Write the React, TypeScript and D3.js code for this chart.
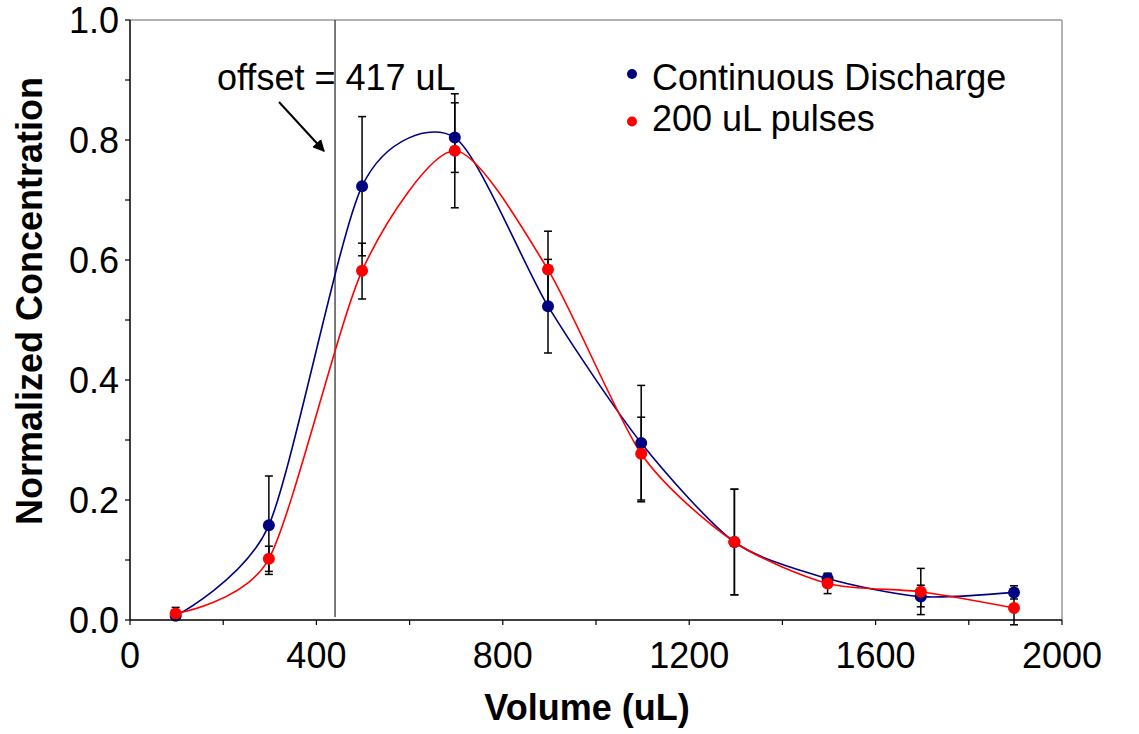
import React from "react";
import * as d3 from "d3";

const volumes = [98, 298, 498, 697, 897, 1097, 1297, 1497, 1697, 1897];
const continuous = [0.007, 0.158, 0.723, 0.804, 0.523, 0.295, 0.13, 0.069, 0.039, 0.046];
const continuousErrUp = [0.005, 0.082, 0.116, 0.058, 0.078, 0.096, 0.088, 0.008, 0.047, 0.011];
const continuousErrDown = [0.005, 0.082, 0.116, 0.058, 0.078, 0.098, 0.088, 0.008, 0.03, 0.011];
const pulses = [0.011, 0.102, 0.582, 0.782, 0.584, 0.277, 0.13, 0.061, 0.047, 0.02];
const pulsesErrUp = [0.01, 0.021, 0.046, 0.095, 0.064, 0.061, 0.088, 0.017, 0.011, 0.028];
const pulsesErrDown = [0.01, 0.021, 0.047, 0.095, 0.064, 0.077, 0.088, 0.017, 0.025, 0.028];

const xMajorTicks = [0, 400, 800, 1200, 1600, 2000];
const xMinorTicks = [200, 600, 1000, 1400, 1800];
const yMajorTicks = [0, 0.2, 0.4, 0.6, 0.8, 1.0];
const yMinorTicks = [0.1, 0.3, 0.5, 0.7, 0.9];
const offsetLineValue = 440;
const offsetLabel = "offset = 417 uL";
const seriesNames = ["Continuous Discharge", "200 uL pulses"];
const seriesColors = ["#000080", "#ff0000"];

const W = 1139;
const H = 734;
const FONT = "'Liberation Sans', Arial, Helvetica, sans-serif";

export default function App() {
  const x = d3.scaleLinear().domain([0, 2000]).range([130, 1062]);
  const y = d3.scaleLinear().domain([0, 1]).range([620, 20]);
  const line = d3
    .line<[number, number]>()
    .x((d) => x(d[0]))
    .y((d) => y(d[1]))
    .curve(d3.curveCardinal.tension(0.25));

  const series = [
    { name: seriesNames[0], color: seriesColors[0], vals: continuous, up: continuousErrUp, down: continuousErrDown },
    { name: seriesNames[1], color: seriesColors[1], vals: pulses, up: pulsesErrUp, down: pulsesErrDown },
  ];

  const fmtY = d3.format(".1f");

  return (
    <svg width={W} height={H} style={{ position: "absolute", left: 0, top: 0, background: "#fff" }} fontFamily={FONT}>
      <defs>
        <marker id="arrow" viewBox="0 0 10 10" refX="9" refY="5" markerWidth="12" markerHeight="12" markerUnits="userSpaceOnUse" orient="auto">
          <path d="M0,0 L10,5 L0,10 z" fill="#000" />
        </marker>
      </defs>
      <rect x={0} y={0} width={W} height={H} fill="#fff" />
      {/* frame */}
      <line x1={x(0)} x2={x(2000)} y1={y(1)} y2={y(1)} stroke="#999" strokeWidth={1.5} />
      <line x1={x(2000)} x2={x(2000)} y1={y(1)} y2={y(0)} stroke="#999" strokeWidth={1.5} />

      {/* offset line */}
      <line x1={x(offsetLineValue)} x2={x(offsetLineValue)} y1={y(1)} y2={y(0.005)} stroke="#333" strokeWidth={1.3} />

      {/* curves */}
      {series.map((s, i) => (
        <path
          key={"l" + i}
          d={line(volumes.map((v, k) => [v, s.vals[k]] as [number, number])) || ""}
          fill="none"
          stroke={s.color}
          strokeWidth={1.6}
        />
      ))}

      {/* error bars */}
      {series.map((s, i) =>
        volumes.map((v, k) => {
          const cx = x(v);
          const yt = y(s.vals[k] + s.up[k]);
          const yb = y(s.vals[k] - s.down[k]);
          return (
            <g key={"e" + i + "-" + k} stroke="#000" strokeWidth={1.5}>
              <line x1={cx} x2={cx} y1={yt} y2={yb} />
              <line x1={cx - 4} x2={cx + 4} y1={yt} y2={yt} />
              <line x1={cx - 4} x2={cx + 4} y1={yb} y2={yb} />
            </g>
          );
        })
      )}

      {/* markers */}
      {series.map((s, i) =>
        volumes.map((v, k) => (
          <circle key={"m" + i + "-" + k} cx={x(v)} cy={y(s.vals[k])} r={6} fill={s.color} />
        ))
      )}

      {/* axes */}
      <line x1={x(0)} x2={x(2000)} y1={y(0)} y2={y(0)} stroke="#000" strokeWidth={1.5} />
      <line x1={x(0)} x2={x(0)} y1={y(0)} y2={y(1)} stroke="#000" strokeWidth={1.5} />
      {[...xMajorTicks, ...xMinorTicks].map((t) => (
        <line key={"xt" + t} x1={x(t)} x2={x(t)} y1={y(0)} y2={y(0) + 5} stroke="#000" strokeWidth={1.2} />
      ))}
      {[...yMajorTicks, ...yMinorTicks].map((t) => (
        <line key={"yt" + t} x1={x(0) - 5} x2={x(0)} y1={y(t)} y2={y(t)} stroke="#000" strokeWidth={1.2} />
      ))}
      {xMajorTicks.map((t) => (
        <text key={"xl" + t} x={x(t)} y={668} fontSize={36} textAnchor="middle" fill="#000">
          {t}
        </text>
      ))}
      {yMajorTicks.map((t) => (
        <text key={"yl" + t} x={119} y={y(t) + 13} fontSize={36} textAnchor="end" fill="#000">
          {fmtY(t)}
        </text>
      ))}

      {/* titles */}
      <text x={587} y={720} fontSize={36} fontWeight="bold" textAnchor="middle" fill="#000">
        Volume (uL)
      </text>
      <text transform="translate(42,301) rotate(-90)" fontSize={36} fontWeight="bold" textAnchor="middle" fill="#000">
        Normalized Concentration
      </text>

      {/* annotation */}
      <text x={217} y={90} fontSize={36} fill="#000">
        {offsetLabel}
      </text>
      <line x1={279} y1={102} x2={324} y2={151} stroke="#000" strokeWidth={2} markerEnd="url(#arrow)" />

      {/* legend */}
      {series.map((s, i) => (
        <g key={"lg" + i}>
          <circle cx={632} cy={74 + i * 47.5} r={5} fill={s.color} />
          <text x={652} y={90 + i * 41} fontSize={36} fill="#000">
            {s.name}
          </text>
        </g>
      ))}
    </svg>
  );
}
